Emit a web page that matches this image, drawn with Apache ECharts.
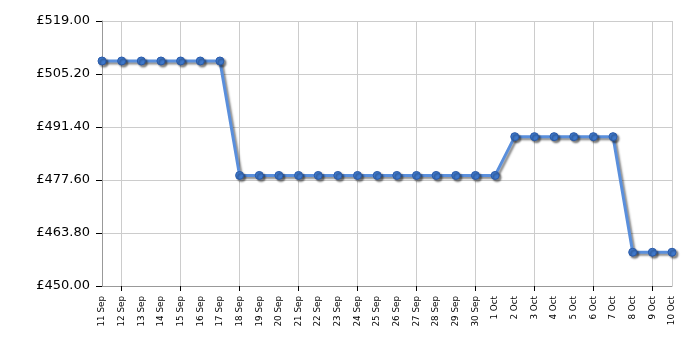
<!DOCTYPE html>
<html>
<head>
<meta charset="utf-8">
<script src="https://cdn.jsdelivr.net/npm/echarts@6/dist/echarts.min.js"></script>
<style>html,body{margin:0;padding:0;background:#fff}#c{width:700px;height:350px}</style>
</head>
<body>
<div id="c"></div>
<script>
var categories = ["11 Sep","12 Sep","13 Sep","14 Sep","15 Sep","16 Sep","17 Sep","18 Sep","19 Sep","20 Sep","21 Sep","22 Sep","23 Sep","24 Sep","25 Sep","26 Sep","27 Sep","28 Sep","29 Sep","30 Sep","1 Oct","2 Oct","3 Oct","4 Oct","5 Oct","6 Oct","7 Oct","8 Oct","9 Oct","10 Oct"];
var prices = [508.59,508.59,508.59,508.59,508.59,508.59,508.59,478.79,478.79,478.79,478.79,478.79,478.79,478.79,478.79,478.79,478.79,478.79,478.79,478.79,478.79,488.89,488.89,488.89,488.89,488.89,488.89,458.79,458.79,458.79];
var yMin = 450, yMax = 519, yStep = 13.8;

var chart = echarts.init(document.getElementById('c'));
var tickFn = function (i) { return i % 3 === 1; };
chart.setOption({
  animation: false,
  grid: { left: 102, right: 28, top: 21, bottom: 64, show: false },
  xAxis: {
    type: 'category',
    data: categories,
    boundaryGap: false,
    axisLine: { show: true, lineStyle: { color: '#999', width: 1 } },
    axisTick: { show: true, interval: tickFn, length: 5, lineStyle: { color: '#000' } },
    axisLabel: { interval: 0, rotate: 90, fontSize: 8.8, color: '#000', fontFamily: 'DejaVu Sans', margin: 10 },
    splitLine: { show: true, interval: function (i) { return i % 3 === 1 || i === categories.length - 1; }, lineStyle: { color: '#ccc', width: 1 } }
  },
  yAxis: {
    type: 'value',
    min: yMin, max: yMax, interval: yStep,
    axisLine: { show: true, lineStyle: { color: '#999', width: 1 } },
    axisTick: { show: true, length: 6, lineStyle: { color: '#000' } },
    axisLabel: { fontSize: 13, color: '#000', fontFamily: 'DejaVu Sans', margin: 12,
      formatter: function (v) { return '£' + v.toFixed(2); } },
    splitLine: { show: true, lineStyle: { color: '#ccc', width: 1 } }
  },
  series: [{
    type: 'line',
    data: prices,
    symbol: 'circle',
    symbolSize: 8,
    lineStyle: { color: '#5a8fdc', width: 3, shadowColor: 'rgba(0,0,0,0.45)', shadowBlur: 2, shadowOffsetX: 2, shadowOffsetY: 2 },
    itemStyle: { color: '#3f79cc', borderColor: '#2a5aa8', borderWidth: 1, shadowColor: 'rgba(0,0,0,0.45)', shadowBlur: 2, shadowOffsetX: 2, shadowOffsetY: 2 }
  }]
});
</script>
</body>
</html>
